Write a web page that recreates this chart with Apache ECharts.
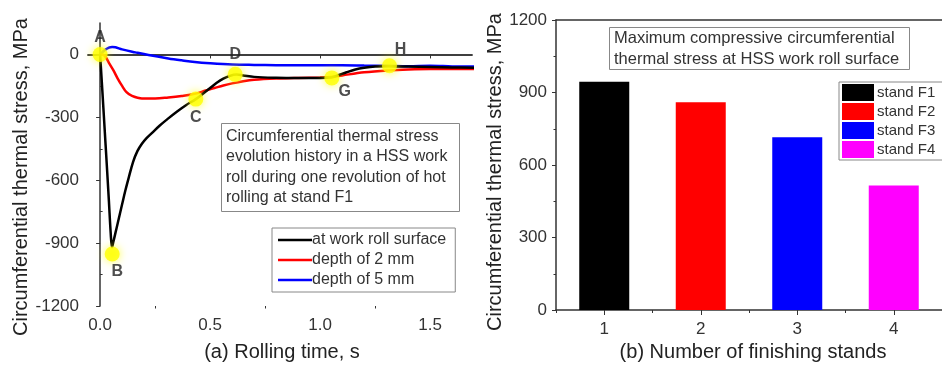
<!DOCTYPE html>
<html><head><meta charset="utf-8">
<script src="https://cdn.jsdelivr.net/npm/echarts@6/dist/echarts.min.js"></script>
<style>html,body{margin:0;padding:0;background:#fff}#c{width:942px;height:365px}</style>
</head><body><div id="c"></div>
<script>
// ---- data ----
const timeTicks = [0, 0.5, 1, 1.5];
const timeMinorTicks = [0.25, 0.75, 1.25];
const stressTicks = [-1200, -900, -600, -300, 0];
const stressMinorTicks = [-1050, -750, -450, -150];

const surface = [[0,0],[0.01,-170],[0.02,-345],[0.03,-520],[0.04,-700],[0.048,-850],[0.054,-920],[0.06,-895],[0.07,-850],[0.08,-805],[0.09,-760],[0.1,-715],[0.115,-648],[0.13,-588],[0.15,-512],[0.17,-460],[0.19,-426],[0.21,-400],[0.235,-375],[0.27,-340],[0.31,-305],[0.35,-272],[0.39,-242],[0.435,-213],[0.47,-185],[0.5,-160],[0.53,-135],[0.56,-115],[0.59,-102],[0.62,-96],[0.65,-100],[0.7,-107],[0.8,-111],[0.9,-112],[1.0,-112],[1.05,-110],[1.08,-100],[1.12,-85],[1.16,-72],[1.2,-64],[1.25,-58],[1.31,-56],[1.4,-58],[1.5,-60],[1.6,-62],[1.7,-63]];
const depth2 = [[0,0],[0.02,-5],[0.04,-40],[0.06,-75],[0.08,-115],[0.1,-150],[0.12,-180],[0.145,-198],[0.19,-210],[0.25,-210],[0.31,-205],[0.37,-198],[0.43,-188],[0.48,-172],[0.52,-160],[0.56,-148],[0.6,-138],[0.65,-128],[0.7,-121],[0.8,-115],[0.9,-112],[1.0,-110],[1.05,-108],[1.1,-100],[1.2,-85],[1.31,-76],[1.4,-72],[1.5,-70],[1.6,-70],[1.7,-69]];
const depth5 = [[0,0],[0.02,20],[0.04,33],[0.055,36],[0.07,34],[0.1,24],[0.16,10],[0.22,-3],[0.31,-19],[0.37,-28],[0.43,-36],[0.5,-42],[0.6,-48],[0.7,-50],[0.8,-51],[0.9,-52],[1.0,-52],[1.1,-52],[1.2,-53],[1.3,-54],[1.4,-56],[1.5,-54],[1.6,-57],[1.7,-58]];

const pointNames = ['A','B','C','D','G','H'];
const pointTimes = [0, 0.055, 0.435, 0.614, 1.053, 1.315];
const pointStress = [0, -952, -213, -95, -112, -54];

const stands = ['1','2','3','4'];
const standNames = ['stand F1','stand F2','stand F3','stand F4'];
const maxStress = [945, 860, 715, 515];
const barTicks = [0, 300, 600, 900, 1200];

// ---- styles ----
const FONT = '"Liberation Sans", Arial, sans-serif';
const AX = '#333';
const lineColors = ['#000000', '#ff0000', '#0000ff'];
const barColors = ['#000000', '#ff0000', '#0000ff', '#ff00ff'];
const labelOffsets = [[0,-17],[5,18],[0,18],[0,-20],[13,14],[11,-16]];

const chart = echarts.init(document.getElementById('c'), null, {renderer: 'canvas'});

const axisLineStyle = {show: true, lineStyle: {color: AX, width: 1.5}};
const labelStyle = {color: '#333', fontSize: 17, fontFamily: FONT};
const plain = v => String(v);

const xMinL = -0.055, xMaxL = 1.69;

const markerData = pointNames.map((n, i) => ({
  name: n, value: [pointTimes[i], pointStress[i]],
  label: {offset: labelOffsets[i]}
}));

const barSeries = standNames.map((nm, i) => ({
  name: nm, type: 'bar', xAxisIndex: 3, yAxisIndex: 2,
  data: stands.map((s, j) => j === i ? maxStress[j] : '-'),
  barWidth: 50, barGap: '-100%',
  itemStyle: {color: barColors[i]}
}));

const option = {
  animation: false,
  backgroundColor: '#fff',
  textStyle: {fontFamily: FONT},
  grid: [
    {left: 88, top: 23, width: 384, height: 283},
    {left: 556, top: 20, right: -8, height: 290}
  ],
  xAxis: [
    {type: 'value', gridIndex: 0, min: xMinL, max: xMaxL, position: 'bottom',
     axisLine: axisLineStyle, splitLine: {show: false},
     axisTick: {show: true, inside: false, length: 4, lineStyle: {color: AX}, customValues: timeTicks},
     axisLabel: Object.assign({margin: 11, customValues: timeTicks, formatter: v => v.toFixed(1)}, labelStyle)},
    {type: 'value', gridIndex: 0, min: xMinL, max: xMaxL, position: 'top',
     axisLine: axisLineStyle, splitLine: {show: false}, axisTick: {show: false}, axisLabel: {show: false}},
    {type: 'value', gridIndex: 0, min: xMinL, max: xMaxL, position: 'bottom',
     axisLine: {show: false}, splitLine: {show: false},
     axisTick: {show: true, length: 2.5, lineStyle: {color: AX}, customValues: timeMinorTicks},
     axisLabel: {show: false}},
    {type: 'category', gridIndex: 1, data: stands, position: 'bottom',
     axisLine: axisLineStyle,
     axisTick: {show: true, alignWithLabel: true, length: 5, lineStyle: {color: AX}},
     axisLabel: Object.assign({margin: 11}, labelStyle)},
    {type: 'category', gridIndex: 1, data: stands, position: 'top',
     axisLine: axisLineStyle, axisTick: {show: false}, axisLabel: {show: false}},
    {type: 'category', gridIndex: 1, data: stands, position: 'bottom',
     axisLine: {show: false},
     axisTick: {show: true, length: 3, lineStyle: {color: AX}},
     axisLabel: {show: false}}
  ],
  yAxis: [
    {type: 'value', gridIndex: 0, min: -1200, max: 150,
     axisLine: axisLineStyle, splitLine: {show: false},
     axisTick: {show: true, length: 4, lineStyle: {color: AX}, customValues: stressTicks},
     axisLabel: Object.assign({margin: 9, customValues: stressTicks, formatter: plain}, labelStyle)},
    {type: 'value', gridIndex: 0, min: -1200, max: 150,
     axisLine: {show: false}, splitLine: {show: false},
     axisTick: {show: true, length: 2.5, lineStyle: {color: AX}, customValues: stressMinorTicks},
     axisLabel: {show: false}},
    {type: 'value', gridIndex: 1, min: 0, max: 1200, interval: 300,
     axisLine: axisLineStyle, splitLine: {show: false},
     axisTick: {show: true, length: 4, lineStyle: {color: AX}},
     minorTick: {show: true, splitNumber: 2, length: 2.5, lineStyle: {color: AX}},
     axisLabel: Object.assign({margin: 9, customValues: barTicks, formatter: plain}, labelStyle)}
  ],
  legend: [
    {data: ['at work roll surface', 'depth of 2 mm', 'depth of 5 mm'],
     orient: 'vertical', left: 272, top: 228, icon: 'rect',
     backgroundColor: '#fff', borderColor: '#888', borderWidth: 1,
     padding: [3, 9, 3, 6], itemGap: 2, itemWidth: 34, itemHeight: 2.5,
     textStyle: {fontSize: 16, lineHeight: 18, color: '#333', fontFamily: FONT, padding: [0, 0, 0, -5]}},
    {data: standNames,
     orient: 'vertical', left: 839, top: 82,
     backgroundColor: '#fff', borderColor: '#888', borderWidth: 1,
     padding: [2, 10, 2, 3], itemGap: 2, itemWidth: 32, itemHeight: 17, icon: 'rect',
     textStyle: {fontSize: 15, color: '#333', fontFamily: FONT, padding: [0, 0, 0, -2]}}
  ],
  graphic: [
    {type: 'text', x: 21, y: 177, rotation: Math.PI / 2,
     style: {text: 'Circumferential thermal stress, MPa', fontSize: 20, fontFamily: FONT, fill: '#222', align: 'center', verticalAlign: 'middle'}},
    {type: 'text', x: 495, y: 172, rotation: Math.PI / 2,
     style: {text: 'Circumferential thermal stress, MPa', fontSize: 20, fontFamily: FONT, fill: '#222', align: 'center', verticalAlign: 'middle'}},
    {type: 'text', x: 282, y: 352,
     style: {text: '(a) Rolling time, s', fontSize: 20, fontFamily: FONT, fill: '#222', align: 'center', verticalAlign: 'middle'}},
    {type: 'text', x: 753, y: 352,
     style: {text: '(b) Number of finishing stands', fontSize: 20, fontFamily: FONT, fill: '#222', align: 'center', verticalAlign: 'middle'}},
    {type: 'rect', shape: {x: 221.5, y: 123.5, width: 238, height: 88},
     style: {fill: '#fff', stroke: '#888', lineWidth: 1}, z: 5},
    {type: 'text', x: 226, y: 126, z: 6,
     style: {text: 'Circumferential thermal stress\nevolution history in a HSS work\nroll during one revolution of hot\nrolling at stand F1',
       fontSize: 16, lineHeight: 20.5, fontFamily: FONT, fill: '#333'}},
    {type: 'rect', shape: {x: 609.5, y: 27.5, width: 300, height: 42},
     style: {fill: '#fff', stroke: '#888', lineWidth: 1}, z: 5},
    {type: 'text', x: 614, y: 28, z: 6,
     style: {text: 'Maximum compressive circumferential\nthermal stress at HSS work roll surface',
       fontSize: 16.5, lineHeight: 21, fontFamily: FONT, fill: '#333'}}
  ],
  series: [
    {name: 'depth of 5 mm', type: 'line', xAxisIndex: 0, yAxisIndex: 0, data: depth5,
     symbol: 'none', smooth: 0.35, lineStyle: {color: lineColors[2], width: 2.5}, itemStyle: {color: lineColors[2]}, z: 2},
    {name: 'depth of 2 mm', type: 'line', xAxisIndex: 0, yAxisIndex: 0, data: depth2,
     symbol: 'none', smooth: 0.35, lineStyle: {color: lineColors[1], width: 2.5}, itemStyle: {color: lineColors[1]}, z: 3},
    {name: 'at work roll surface', type: 'line', xAxisIndex: 0, yAxisIndex: 0, data: surface,
     symbol: 'none', smooth: 0.35, lineStyle: {color: lineColors[0], width: 2.5}, itemStyle: {color: lineColors[0]}, z: 4},
    {name: 'points', type: 'scatter', xAxisIndex: 0, yAxisIndex: 0, data: markerData,
     symbolSize: 15, z: 5,
     itemStyle: {color: '#ffff00', shadowBlur: 8, shadowColor: 'rgba(255,255,0,0.9)'},
     label: {show: true, position: 'inside', formatter: p => p.name,
       fontSize: 16, fontWeight: 'bold', color: '#222', fontFamily: FONT}},
    ...barSeries
  ]
};
chart.setOption(option);
</script>
</body></html>
